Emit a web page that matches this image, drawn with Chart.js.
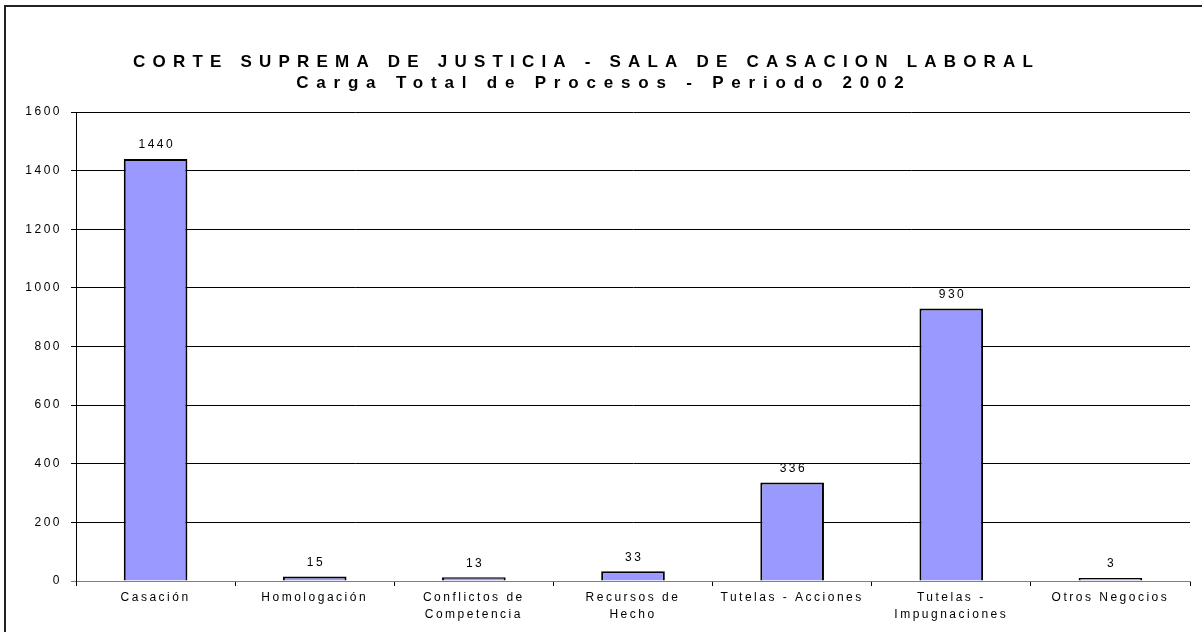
<!DOCTYPE html>
<html>
<head>
<meta charset="utf-8">
<title>Carga Total de Procesos 2002</title>
<script src="https://cdn.jsdelivr.net/npm/chart.js@4/dist/chart.umd.min.js"></script>
<style>
  html, body { margin: 0; padding: 0; background: #fff; }
  #wrap { width: 1202px; height: 632px; position: relative; }
</style>
</head>
<body>
<div id="wrap"><canvas id="chart" width="1202" height="632"></canvas></div>
<script>
/* Corte Suprema - Sala de Casacion Laboral, carga 2002 */

const TITLE_LINES = [
  "CORTE SUPREMA DE JUSTICIA - SALA DE CASACION LABORAL",
  "Carga Total de Procesos - Periodo 2002"
];

const categories = [
  "Casación",
  "Homologación",
  ["Conflictos de", "Competencia"],
  ["Recursos de", "Hecho"],
  "Tutelas - Acciones",
  ["Tutelas -", "Impugnaciones"],
  "Otros Negocios"
];

const procesos = [1440, 15, 13, 33, 336, 930, 3];

const Y_MIN = 0;
const Y_MAX = 1600;
const Y_STEP = 200;

const FONT = "'Liberation Sans', Arial, sans-serif";
const SMALL_SPACING = 2.5;   // px between letters for axis / value text
const SMALL_SIZE = 12;

/* -------- plugins -------- */
const spacingPlugin = {
  id: "spacing",
  beforeDraw(chart) {
    chart.ctx.letterSpacing = SMALL_SPACING + "px";
  }
};

const framePlugin = {
  id: "frame",
  afterDraw(chart) {
    const ctx = chart.ctx;
    ctx.save();
    ctx.fillStyle = "#222";
    ctx.fillRect(4, 5, 2, chart.height);
    ctx.fillRect(4, 5, chart.width, 2);

    // title, two lines with wide tracking
    ctx.fillStyle = "#000";
    ctx.font = "bold 17px " + FONT;
    ctx.textAlign = "center";
    ctx.textBaseline = "middle";
    ctx.letterSpacing = "7.2px";
    ctx.fillText(TITLE_LINES[0], 583 + 3.6, 62);
    ctx.letterSpacing = "7.8px";
    ctx.fillText(TITLE_LINES[1], 600 + 3.9, 83);
    ctx.restore();
  }
};

const valueLabels = {
  id: "valueLabels",
  afterDatasetsDraw(chart) {
    const ctx = chart.ctx;
    const meta = chart.getDatasetMeta(0);
    ctx.save();
    ctx.letterSpacing = SMALL_SPACING + "px";
    ctx.fillStyle = "#000";
    ctx.font = SMALL_SIZE + "px " + FONT;
    ctx.textAlign = "center";
    ctx.textBaseline = "middle";
    meta.data.forEach((bar, i) => {
      ctx.fillText(String(procesos[i]), bar.x + SMALL_SPACING / 2, bar.y - 14);
    });
    ctx.restore();
  }
};

/* -------- chart -------- */
const ctx = document.getElementById("chart").getContext("2d");

new Chart(ctx, {
  type: "bar",
  data: {
    labels: categories,
    datasets: [{
      data: procesos,
      backgroundColor: "#9999FF",
      borderColor: "#000",
      borderWidth: 2,
      borderSkipped: "bottom",
      minBarLength: 3,
      barPercentage: 0.4,
      categoryPercentage: 1.0
    }]
  },
  options: {
    responsive: false,
    animation: false,
    devicePixelRatio: 1,
    layout: { padding: { left: 0, top: 112, right: 12, bottom: 0 } },
    plugins: {
      legend: { display: false },
      title: { display: false },
      tooltip: { enabled: false }
    },
    scales: {
      x: {
        offset: true,
        grid: {
          offset: true,
          drawOnChartArea: false,
          drawTicks: true,
          tickLength: 5,
          color: "#000"
        },
        border: { color: "#808080", width: 1 },
        ticks: {
          color: "#000",
          font: { family: FONT, size: SMALL_SIZE, lineHeight: 1.45 },
          padding: 3,
          maxRotation: 0,
          autoSkip: false
        },
        afterFit(scale) { scale.height = 51; }
      },
      y: {
        min: Y_MIN,
        max: Y_MAX,
        grid: {
          color: (c) => (c.tick && c.tick.value === 0 ? "#808080" : "#000"),
          tickLength: 5
        },
        border: { color: "#000", width: 1 },
        ticks: {
          stepSize: Y_STEP,
          color: "#000",
          font: { family: FONT, size: SMALL_SIZE },
          padding: 9,
          callback: (v) => String(v)
        },
        afterFit(scale) { scale.width = 76; }
      }
    }
  },
  plugins: [spacingPlugin, valueLabels, framePlugin]
});
</script>
</body>
</html>
